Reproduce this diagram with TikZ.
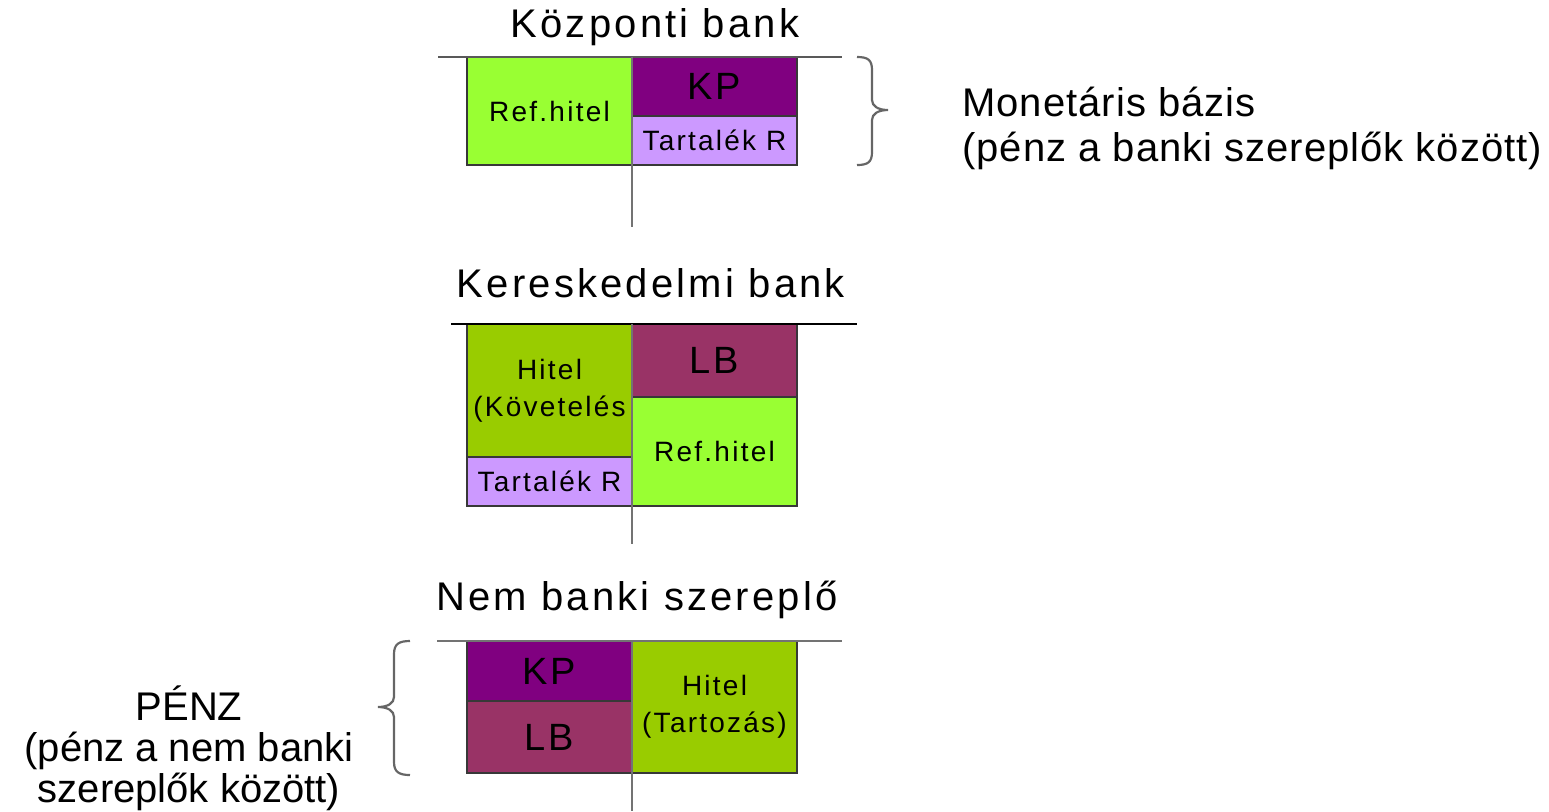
\documentclass[tikz,border=0pt]{standalone}
\usepackage{fontspec}
\setmainfont{Liberation Sans}[LetterSpace=8]
\newfontfamily\plainsans{Liberation Sans}
\newfontfamily\medsans{Liberation Sans}[LetterSpace=2.5]
\definecolor{refgreen}{HTML}{99FF33}
\definecolor{loangreen}{HTML}{99CC00}
\definecolor{kppurple}{HTML}{800080}
\definecolor{lbred}{HTML}{993366}
\definecolor{reslilac}{HTML}{CC99FF}
\tikzset{
  cell/.style={draw=black!78, line width=1.4pt, inner sep=0pt, minimum width=82.5pt, align=center, font=\fontsize{14}{18.5}\selectfont},
  big/.style={font=\fontsize{19}{22}\selectfont},
  title/.style={font=\fontsize{20}{24}\selectfont, inner sep=0pt},
  bar/.style={draw=black!65, line width=1.4pt},
  axis/.style={draw=black!55, line width=1.4pt},
  bracket/.style={draw=black!60, line width=1.1pt},
}
\begin{document}
\begin{tikzpicture}[x=0.5pt,y=-0.5pt]
\useasboundingbox (0,0) rectangle (1549,811);
% ---------- Kozponti bank ----------
\node[title] (t1) at (655,27) {Központi bank};
\coordinate (l1a) at (438,57); \coordinate (l1b) at (842,57);
\coordinate (v1a) at (632,57); \coordinate (v1b) at (632,227);
\node[cell, fill=refgreen, minimum height=54pt] (cbref) at (549.5,111) {Ref.hitel};
\node[cell, fill=kppurple, minimum height=29.5pt, big] (cbkp) at (714.5,86.5) {KP};
\node[cell, fill=reslilac, minimum height=24.5pt] (cbtr) at (714.5,140.5) {Tartalék R};
\draw[bar] (l1a) -- (l1b);
\draw[axis] (v1a) -- (v1b);
\draw[bracket] (857,57) .. controls (868,57) and (872,60) .. (872,70) -- (872,100)
  .. controls (872,106) and (878,110) .. (888,110)
  .. controls (878,110) and (872,114) .. (872,120) -- (872,152)
  .. controls (872,162) and (868,165) .. (857,165);
\node[anchor=west, align=left, inner sep=0pt, font=\fontsize{20}{22.5}\medsans] (mb) at (962,128) {Monetáris bázis\\(pénz a banki szereplők között)};
% ---------- Kereskedelmi bank ----------
\node[title] (t2) at (651,283) {Kereskedelmi bank};
\coordinate (l2a) at (451,324); \coordinate (l2b) at (857,324);
\coordinate (v2a) at (632,324); \coordinate (v2b) at (632,544);
\node[cell, fill=loangreen, minimum height=66.5pt] (kbhitel) at (549.5,390.5) {};
\node[font=\fontsize{14}{18.5}\selectfont, align=center, inner sep=0pt] (kbhiteltxt) at (kbhitel) {Hitel\\(Követelés};
\node[cell, fill=reslilac, minimum height=24.5pt] (kbtr) at (549.5,481.5) {Tartalék R};
\node[cell, fill=lbred, minimum height=36.5pt, big] (kblb) at (714.5,360.5) {LB};
\node[cell, fill=refgreen, minimum height=54.5pt] (kbref) at (714.5,451.5) {Ref.hitel};
\draw[bar, draw=black] (l2a) -- (l2b);
\draw[axis] (v2a) -- (v2b);
% ---------- Nem banki szereplo ----------
\node[title] (t3) at (637,600) {Nem banki szereplő};
\coordinate (l3a) at (437,641); \coordinate (l3b) at (842,641);
\coordinate (v3a) at (632,641); \coordinate (v3b) at (632,811);
\node[cell, fill=kppurple, minimum height=30pt, big] (nbkp) at (549.5,671) {KP};
\node[cell, fill=lbred, minimum height=36pt, big] (nblb) at (549.5,737) {LB};
\node[cell, fill=loangreen, minimum height=66pt] (nbhitel) at (714.5,707) {Hitel\\(Tartozás)};
\draw[bar, draw=black!55] (l3a) -- (l3b);
\draw[axis] (v3a) -- (v3b);
\draw[bracket] (410,641) .. controls (399,641) and (394,644) .. (394,654) -- (394,697)
  .. controls (394,703) and (388,707) .. (378,707)
  .. controls (388,707) and (394,711) .. (394,717) -- (394,762)
  .. controls (394,772) and (399,775) .. (410,775);
\node[align=center, inner sep=0pt, font=\fontsize{20}{20.5}\plainsans] (penz) at (189,748) {PÉNZ\\(pénz a nem banki\\szereplők között)};
\end{tikzpicture}
\end{document}
